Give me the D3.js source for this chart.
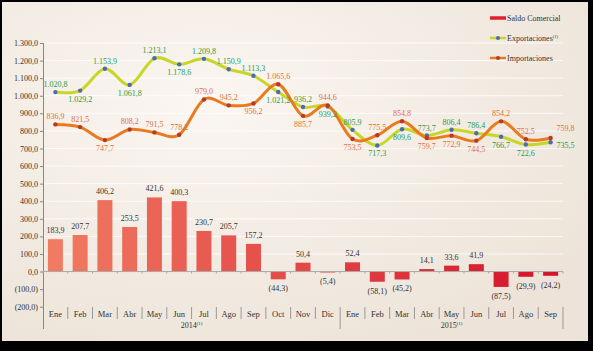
<!DOCTYPE html>
<html>
<head>
<meta charset="utf-8">
<script src="https://cdn.jsdelivr.net/npm/d3@7"></script>
<style>
  html, body { margin: 0; padding: 0; background: #000; }
  svg { display: block; }
</style>
</head>
<body>
<div id="chart"></div>
<script>
// data
const months = ["Ene", "Feb", "Mar", "Abr", "May", "Jun", "Jul", "Ago", "Sep", "Oct", "Nov", "Dic",
  "Ene", "Feb", "Mar", "Abr", "May", "Jun", "Jul", "Ago", "Sep"];
const years = ["2014", "2015"];
const yearStart = [0, 12]; // index of the first month of each year
const exportaciones = [1020.8, 1029.2, 1153.9, 1061.8, 1213.1, 1178.6, 1209.8, 1150.9, 1113.3, 1021.2, 936.2, 939.2,
  805.9, 717.3, 809.6, 773.7, 806.4, 786.4, 766.7, 722.6, 735.5];
const importaciones = [836.9, 821.5, 747.7, 808.2, 791.5, 778.2, 979.0, 945.2, 956.2, 1065.6, 885.7, 944.6,
  753.5, 775.5, 854.8, 759.7, 772.9, 744.5, 854.2, 752.5, 759.8];
const saldo = [183.9, 207.7, 406.2, 253.5, 421.6, 400.3, 230.7, 205.7, 157.2, -44.3, 50.4, -5.4,
  52.4, -58.1, -45.2, 14.1, 33.6, 41.9, -87.5, -29.9, -24.2];
const yTicks = [-200, -100, 0, 100, 200, 300, 400, 500, 600, 700, 800, 900, 1000, 1100, 1200, 1300];

// where each point label sits: a = above, b = below, ra / rb = to the right, above or below
const expoLabelPos = ["a", "b", "a", "b", "a", "b", "a", "a", "a", "b", "a", "b", "a", "b", "b", "a", "a", "a", "b", "b", "rb"];
const impoLabelPos = ["a", "a", "b", "a", "a", "a", "a", "a", "b", "a", "b", "a", "b", "a", "a", "b", "b", "b", "a", "a", "ra"];

const width = 593, height = 351;
const font = "'Liberation Serif', 'DejaVu Serif', serif";

const es = d3.formatLocale({ decimal: ",", thousands: ".", grouping: [3], currency: ["", ""] });
const f1 = es.format(",.1f");
const fmt = (v) => (v < 0 ? "(" + f1(-v) + ")" : f1(v));

const svg = d3.select("#chart").append("svg")
  .attr("width", width)
  .attr("height", height)
  .attr("font-family", font);

const defs = svg.append("defs");
const bg = defs.append("radialGradient").attr("id", "bg")
  .attr("cx", "35%").attr("cy", "30%").attr("r", "80%");
bg.append("stop").attr("offset", "0%").attr("stop-color", "#faf6f1");
bg.append("stop").attr("offset", "100%").attr("stop-color", "#ede3d8");

// frame
svg.append("rect").attr("width", width).attr("height", height).attr("fill", "#000");
svg.append("rect").attr("x", 2).attr("y", 2).attr("width", 586).attr("height", 339).attr("fill", "url(#bg)");

const x = d3.scaleBand().domain(d3.range(months.length)).range([43, 563]);
const xStep = x.step();
const xc = (i) => x(i) + xStep / 2;
const xEdge = (i) => 43 + xStep * i;
const y = d3.scaleLinear().domain([-200, 1300]).range([306.7, 43]);

// gridlines
svg.append("g")
  .selectAll("line")
  .data(yTicks.filter((d) => d > 0))
  .join("line")
  .attr("x1", 44).attr("x2", 563)
  .attr("y1", (d) => y(d)).attr("y2", (d) => y(d))
  .attr("stroke", "#fff")
  .attr("stroke-opacity", 0.75)
  .attr("stroke-width", 1);

// y axis
const yAxis = svg.append("g")
  .attr("transform", "translate(43,0)")
  .call(d3.axisLeft(y).tickValues(yTicks).tickFormat(fmt).tickSize(3).tickPadding(2));
yAxis.select(".domain").remove();
yAxis.selectAll(".tick line").attr("stroke", "#888");
yAxis.selectAll(".tick text").attr("font-size", 8).attr("font-family", font).attr("fill", "#333");
svg.append("line")
  .attr("x1", 43.5).attr("x2", 43.5).attr("y1", y(1300)).attr("y2", 329)
  .attr("stroke", "#888");

// bars
const barColor = d3.scaleLinear().domain([0, months.length - 1]).range(["#f07a62", "#d6132a"]);
const bw = 15;
svg.append("g")
  .selectAll("rect")
  .data(saldo)
  .join("rect")
  .attr("x", (d, i) => xc(i) - bw / 2)
  .attr("width", bw)
  .attr("y", (d) => y(Math.max(0, d)))
  .attr("height", (d) => Math.abs(y(d) - y(0)))
  .attr("fill", (d, i) => barColor(i));

svg.append("g")
  .selectAll("text")
  .data(saldo)
  .join("text")
  .attr("x", (d, i) => xc(i))
  .attr("y", (d) => (d >= 0 ? y(d) - 6 : y(d) + 12))
  .attr("text-anchor", "middle")
  .attr("font-size", 8)
  .attr("fill", "#333")
  .text(fmt);

// zero line with small ticks
svg.append("line")
  .attr("x1", 43).attr("x2", 563).attr("y1", y(0)).attr("y2", y(0))
  .attr("stroke", "#aaa");
svg.append("g")
  .selectAll("line")
  .data(d3.range(months.length + 1))
  .join("line")
  .attr("x1", (i) => xEdge(i)).attr("x2", (i) => xEdge(i))
  .attr("y1", y(0)).attr("y2", y(0) + 2)
  .attr("stroke", "#aaa");

// month labels and separators
svg.append("g")
  .selectAll("text")
  .data(months)
  .join("text")
  .attr("x", (d, i) => xc(i))
  .attr("y", 317)
  .attr("text-anchor", "middle")
  .attr("font-size", 8.5)
  .attr("fill", "#333")
  .text((d) => d);

svg.append("g")
  .selectAll("line")
  .data(d3.range(1, months.length + 1))
  .join("line")
  .attr("x1", (i) => xEdge(i)).attr("x2", (i) => xEdge(i))
  .attr("y1", 307)
  .attr("y2", (i) => (i === yearStart[1] || i === months.length ? 329 : 319))
  .attr("stroke", "#999");

years.forEach((yr, k) => {
  const a = yearStart[k];
  const b = k + 1 < yearStart.length ? yearStart[k + 1] - 1 : months.length - 1;
  const t = svg.append("text")
    .attr("x", (xc(a) + xc(b)) / 2)
    .attr("y", 328)
    .attr("text-anchor", "middle")
    .attr("font-size", 8)
    .attr("fill", "#333")
    .text(yr);
  t.append("tspan").attr("font-size", 5).attr("dy", -3).text("(1)");
});

// lines
const line = d3.line()
  .x((d, i) => xc(i))
  .y((d) => y(d))
  .curve(d3.curveCatmullRom.alpha(0));

const series = [
  { values: exportaciones, pos: expoLabelPos, stroke: "#c8d628", marker: "#4a6cb3", label: "#2a9c4a" },
  { values: importaciones, pos: impoLabelPos, stroke: "#ea7a1e", marker: "#b53a26", label: "#e2703c" },
];

series.forEach((s) => {
  svg.append("path")
    .attr("d", line(s.values))
    .attr("fill", "none")
    .attr("stroke", s.stroke)
    .attr("stroke-width", 3)
    .attr("stroke-linecap", "round");

  svg.append("g")
    .selectAll("circle")
    .data(s.values)
    .join("circle")
    .attr("cx", (d, i) => xc(i))
    .attr("cy", (d) => y(d))
    .attr("r", 2.2)
    .attr("fill", s.marker);
});

const labelY = (p, v) => {
  if (p === "a") return y(v) - 5;
  if (p === "b") return y(v) + 11;
  if (p === "ra") return y(v) - 7;
  return y(v) + 6;
};

series.forEach((s) => {
  svg.append("g")
    .selectAll("text")
    .data(s.values)
    .join("text")
    .attr("x", (d, i) => (s.pos[i][0] === "r" ? xc(i) + 6 : xc(i)))
    .attr("y", (d, i) => labelY(s.pos[i], d))
    .attr("text-anchor", (d, i) => (s.pos[i][0] === "r" ? "start" : "middle"))
    .attr("font-size", 8)
    .attr("fill", s.label)
    .text(fmt);
});

// legend
const legend = svg.append("g").attr("transform", "translate(490,0)");
const items = [
  { name: "Saldo Comercial", color: "#e0202c", marker: null, sup: "" },
  { name: "Exportaciones", color: "#c8d628", marker: "#4a6cb3", sup: "(1)" },
  { name: "Importaciones", color: "#ea7a1e", marker: "#b53a26", sup: "" },
];
items.forEach((it, i) => {
  const ly = 18 + i * 20;
  legend.append("line")
    .attr("x1", 0).attr("x2", 16).attr("y1", ly).attr("y2", ly)
    .attr("stroke", it.color).attr("stroke-width", i === 0 ? 3.5 : 2.5);
  if (it.marker) legend.append("circle").attr("cx", 8).attr("cy", ly).attr("r", 2).attr("fill", it.marker);
  const t = legend.append("text")
    .attr("x", 17).attr("y", ly + 3)
    .attr("font-size", 8)
    .attr("fill", "#333")
    .text(it.name);
  if (it.sup) t.append("tspan").attr("font-size", 4.5).attr("dy", -3).text(it.sup);
});
</script>
</body>
</html>
